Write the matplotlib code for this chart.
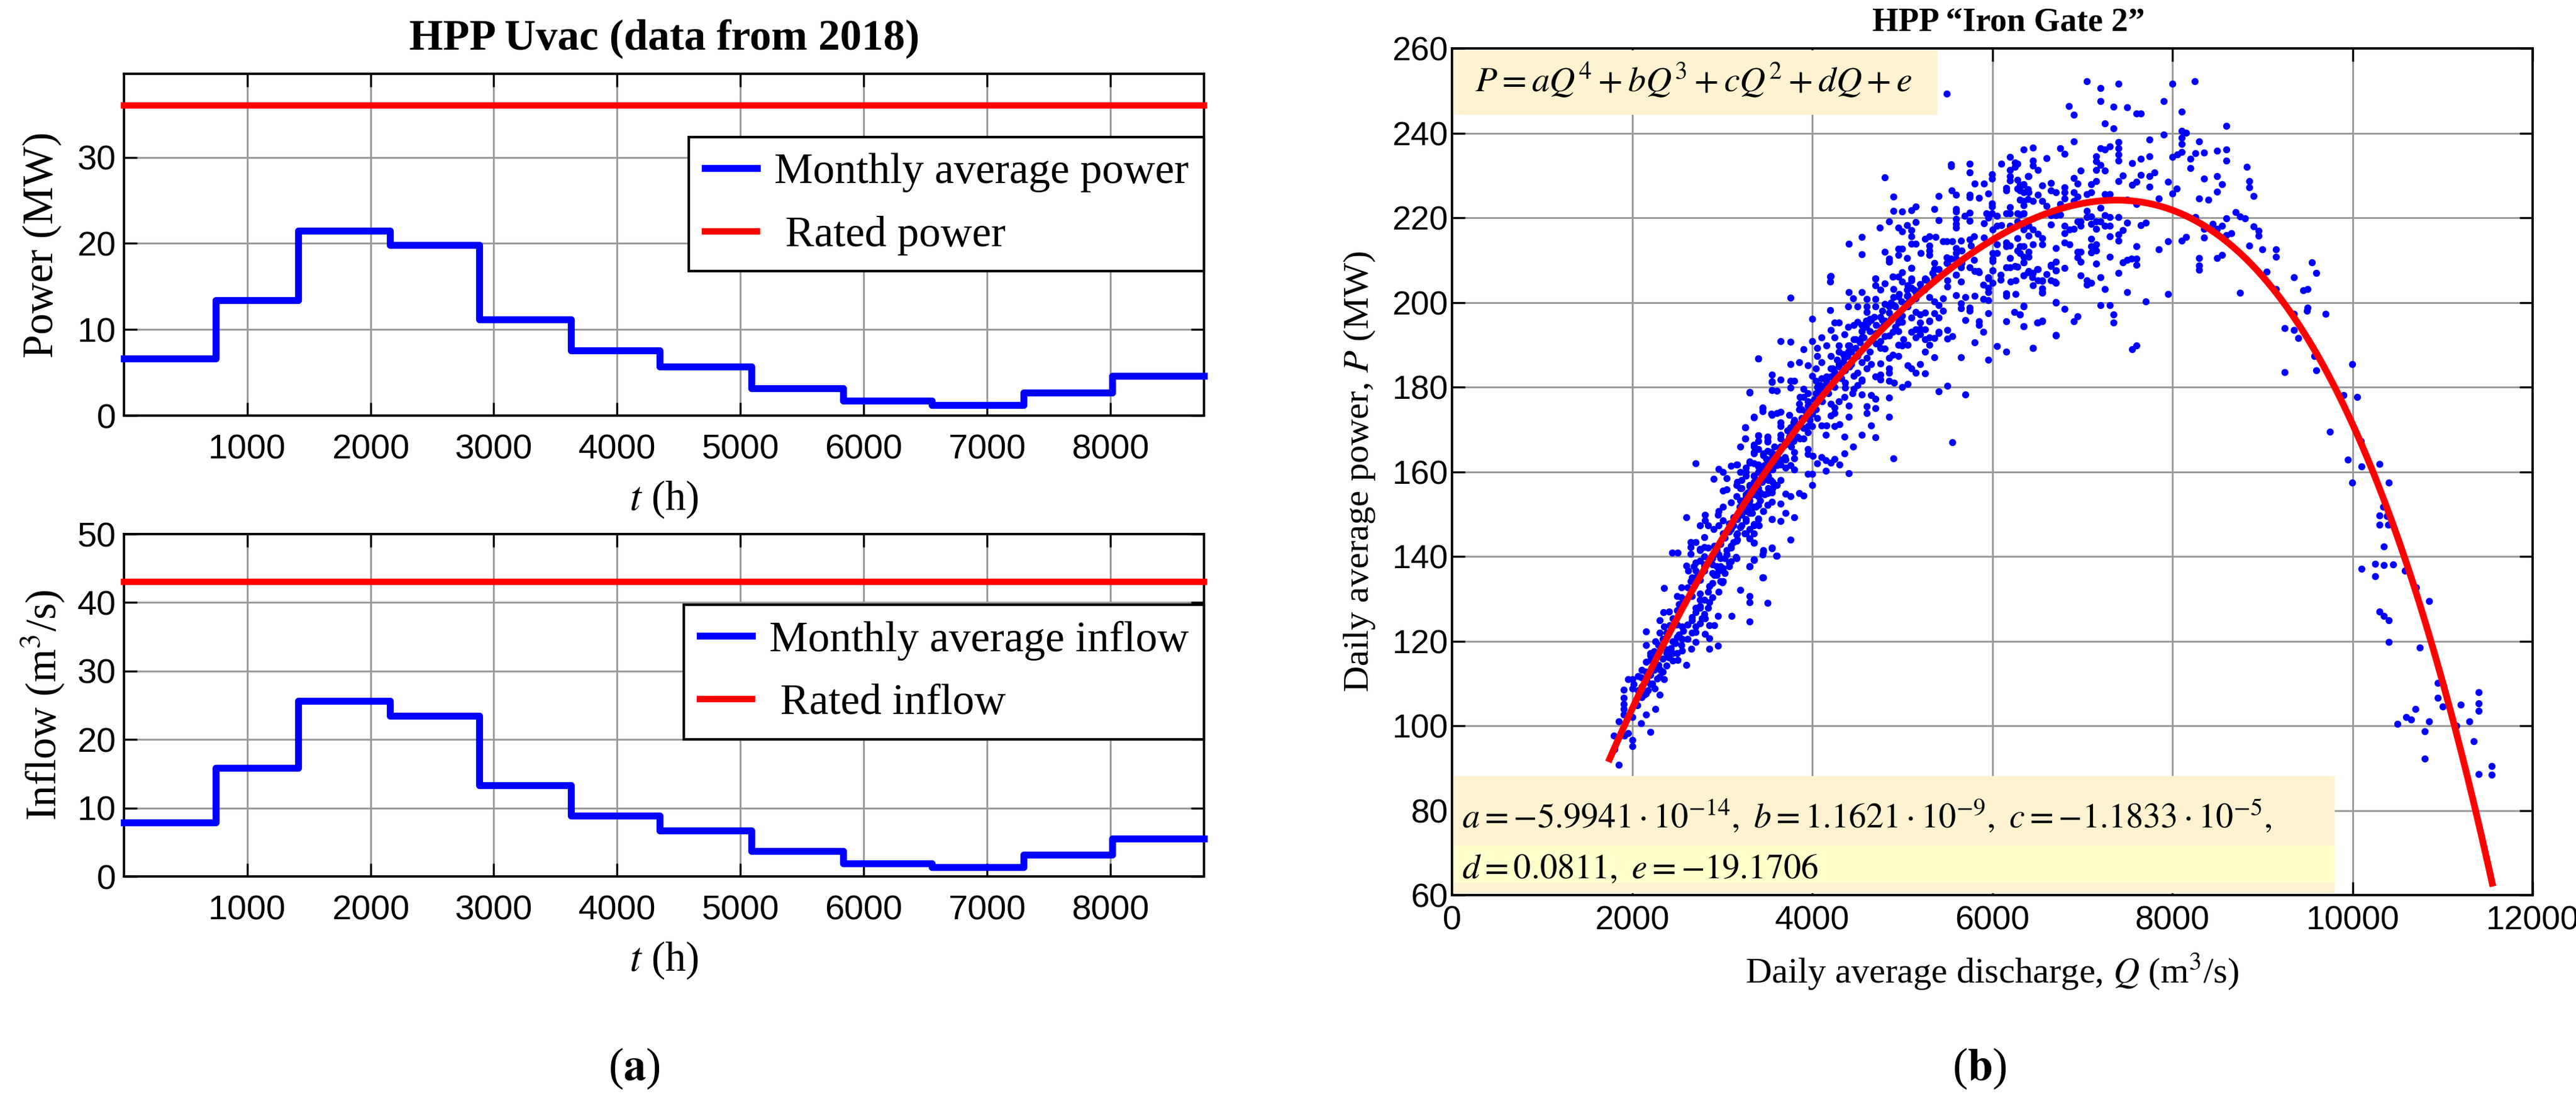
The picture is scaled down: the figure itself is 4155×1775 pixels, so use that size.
import numpy as np
import matplotlib
matplotlib.use("Agg")
import matplotlib.pyplot as plt
from matplotlib.patches import Rectangle

plt.rcParams['font.family'] = ['Liberation Serif', 'DejaVu Serif']
plt.rcParams['mathtext.fontset'] = 'stix'

# ---------------- (a) HPP Uvac, monthly data 2018 ----------------
month_edges = [0, 744, 1416, 2160, 2880, 3624, 4344, 5088, 5832, 6552, 7296, 8016, 8760]
monthly_power = [6.6, 13.4, 21.5, 19.8, 11.2, 7.6, 5.7, 3.2, 1.7, 1.2, 2.7, 4.6]
monthly_inflow = [7.9, 15.9, 25.6, 23.5, 13.3, 8.9, 6.7, 3.7, 1.9, 1.4, 3.2, 5.5]
rated_power = 36
rated_inflow = 43
t_ticks = [1000, 2000, 3000, 4000, 5000, 6000, 7000, 8000]

# ---------------- (b) HPP Iron Gate 2, daily data ----------------
fit_coeffs = [-5.9941e-14, 1.1621e-9, -1.1833e-5, 0.0811, -19.1706]
fit_q_range = [1750, 11550]

# rising branch, low discharge
pts_low = [
    (1853, 90.8), (1802, 94.4), (1798, 97.6), (1853, 101.1), (1904, 102.7), (1904, 103.9), (1904, 105.1),
    (1904, 106.6), (1904, 108.5), (1952, 111.0), (2003, 111.0), (2003, 108.8), (2003, 102.0), (1957, 98.3),
    (1915, 97.7), (2003, 96.6), (2003, 95.2), (2102, 100.6), (2157, 102.7), (2203, 98.5), (2256, 103.9),
    (2060, 104.9), (2107, 106.8), (2153, 107.6), (2199, 109.8), (2252, 108.8), (2302, 107.4), (2102, 111.5),
    (2153, 112.8), (2302, 111.6), (2353, 111.0), (2245, 113.7), (2314, 113.2), (2199, 115.6), (2199, 117.1),
    (2153, 119.0), (2157, 122.3), (2256, 120.0), (2302, 122.0), (2353, 123.4), (2302, 124.9), (2349, 126.8),
    (2406, 127.0), (2353, 132.5), (2406, 116.1), (2452, 117.1), (2503, 115.6), (2383, 118.1), (2452, 120.0),
    (2498, 121.0), (2556, 120.5), (2556, 117.8), (2602, 114.3), (2653, 118.2), (2706, 119.8), (2706, 122.2),
    (2805, 121.7), (2856, 120.7), (2856, 118.2), (2953, 118.9), (2498, 123.9), (2556, 123.4), (2614, 123.9),
    (2660, 124.9), (2752, 124.2), (2805, 125.4), (2856, 123.8), (2909, 123.8), (2752, 128.3), (2706, 127.8),
    (2498, 130.7), (2545, 132.7), (2568, 129.8), (2660, 130.7), (2752, 131.2), (2752, 129.8), (2856, 129.2),
    (2953, 126.0), (3102, 126.0), (3301, 124.7), (3301, 129.2), (3301, 130.7), (3201, 132.1), (3501, 129.0),
    (3450, 135.0), (2648, 134.2), (2706, 135.1), (2856, 133.0), (3001, 133.8), (2625, 136.6), (2683, 137.6),
    (2752, 139.0), (2890, 136.1), (3005, 136.6), (3075, 138.6), (2602, 137.8), (2441, 140.9), (2505, 140.9),
    (2648, 140.6), (2752, 141.5), (2844, 142.0), (3052, 140.5), (3155, 139.8), (3301, 137.6), (3351, 139.1),
    (3455, 141.2), (3554, 141.9), (3605, 140.1), (3098, 142.1),
    (2061, 108.3), (2107, 109.3), (2164, 110.7), (2199, 112.0), (2245, 113.2), (2291, 114.4), (2337, 115.9),
    (2383, 117.1), (2429, 118.3), (2475, 119.5), (2522, 121.5), (2568, 122.5), (2614, 123.9), (2660, 125.6),
    (2706, 126.8), (2752, 127.8), (2798, 129.8), (2844, 131.7), (2890, 133.7), (2936, 135.6), (2983, 137.6),
    (3029, 139.5), (2130, 107.3), (2176, 108.3), (2222, 110.0), (2280, 111.2), (2337, 112.7), (2383, 114.2),
    (2452, 115.4), (2498, 117.1), (2545, 119.0), (2614, 120.5), (2660, 122.0), (2706, 123.4), (2775, 125.4),
    (2798, 126.4), (2844, 127.8), (2890, 130.3), (2959, 131.7), (2983, 134.2), (3029, 136.1), (3075, 137.6),
    (2014, 109.8), (2061, 111.7), (2107, 113.2), (2153, 115.1), (2199, 116.6), (2245, 117.6), (2291, 119.0),
    (2337, 120.5), (2383, 122.0), (2418, 123.7), (2452, 125.4), (2498, 127.3), (2522, 128.8), (2545, 130.3),
    (2614, 132.7), (2660, 135.1), (2706, 136.6), (2798, 138.1), (2867, 139.5), (2936, 141.0),
]

# rising branch, 140-190 MW
pts_mid = [
    (3403, 186.8), (3548, 183.0), (3548, 181.2), (3548, 179.3), (3301, 178.7), (3451, 175.1), (3451, 174.3),
    (3548, 173.4), (3352, 172.9), (3253, 170.5), (3253, 167.8), (3202, 166.0), (3403, 168.6), (3502, 168.1),
    (3502, 167.1), (3352, 166.4), (3352, 164.7), (3403, 165.4), (3456, 164.4), (3536, 164.7), (2702, 162.0),
    (2956, 160.6), (3006, 160.0), (2903, 158.3), (3052, 158.5), (3098, 161.4), (3156, 161.7), (3202, 160.0),
    (3260, 160.0), (3301, 162.2), (3352, 162.0), (3403, 161.2), (3352, 159.0), (3444, 158.6), (3490, 160.0),
    (3536, 158.1), (3156, 156.8), (3202, 156.1), (3006, 155.6), (3052, 155.9), (3301, 156.8), (3352, 155.6),
    (3398, 154.2), (3260, 154.2), (3156, 154.2), (3202, 153.2), (3098, 152.7), (3006, 151.7), (2960, 150.7),
    (2949, 149.8), (2806, 149.9), (2806, 148.5), (2753, 147.3), (2845, 147.3), (2603, 149.3), (2903, 146.4),
    (2956, 147.3), (3006, 148.5), (3098, 146.4), (3156, 145.1), (3156, 143.7), (3098, 142.5), (3260, 150.7),
    (3306, 150.3), (3352, 151.7), (3403, 152.2), (3456, 150.7), (3398, 149.0), (3352, 147.6), (3410, 147.3),
    (3502, 152.2), (3548, 155.1), (3548, 152.9), (3548, 148.8), (3248, 145.4), (3306, 146.4), (3352, 145.4),
    (3306, 144.2), (3352, 143.2), (2649, 143.4), (2707, 143.4), (2649, 142.2), (2753, 141.7), (2799, 142.2),
    (2799, 144.6), (2799, 140.0), (2891, 139.5), (2960, 140.5), (3098, 138.8), (3156, 139.6), (2707, 138.5),
    (2799, 137.6), (2891, 138.1), (2960, 136.6), (3006, 137.3), (2914, 135.6), (3006, 134.2), (2661, 134.6),
    (2753, 134.4), (3306, 137.6), (3352, 139.3), (3456, 135.1), (3456, 141.5), (3548, 142.0),
    (2799, 136.6), (2891, 140.0), (2937, 141.5), (2983, 142.9), (3029, 144.4), (3075, 145.9), (3122, 147.3),
    (3168, 148.8), (3214, 150.3), (3260, 151.7), (3306, 153.2), (3352, 154.7), (3398, 156.1), (3444, 157.6),
    (3490, 159.0), (3536, 160.5), (3583, 162.0), (2845, 138.5), (2914, 142.5), (3006, 145.4), (3075, 147.8),
    (3122, 149.3), (3191, 151.7), (3237, 153.2), (3283, 155.1), (3329, 156.6), (3375, 158.1), (3421, 160.0),
    (3467, 161.5), (3513, 162.9), (3559, 164.4), (2983, 139.5), (3052, 141.5), (3122, 143.4), (3168, 145.4),
    (3214, 147.3), (3260, 148.8), (3329, 150.3), (3375, 151.7), (3421, 153.2), (3467, 154.7), (3513, 156.1),
    (3559, 157.6), (2937, 137.6), (2753, 135.6),
]

# central cloud, 3200-6700 m3/s
pts_core = [
    (3451, 135.1), (3305, 137.7), (3351, 139.3), (3451, 140.5), (3554, 142.1), (3600, 140.1), (3755, 144.0),
    (3351, 143.2), (3305, 144.2), (3259, 145.4), (3167, 143.9), (3202, 146.9), (3259, 148.3), (3351, 147.3),
    (3397, 148.8), (3397, 152.2), (3455, 150.7), (3501, 152.2), (3305, 150.5), (3213, 149.8), (3554, 148.8),
    (3651, 148.3), (3702, 150.2), (3801, 149.2), (3651, 152.4), (3397, 154.2), (3351, 155.6), (3305, 156.6),
    (3213, 156.1), (3501, 154.9), (3559, 156.1), (3651, 158.1), (3605, 156.8), (3704, 154.8), (3755, 154.2),
    (3854, 155.0), (3905, 154.4), (3167, 157.6), (3213, 158.1), (3259, 159.0), (3351, 159.0), (3397, 160.0),
    (3444, 161.0), (3513, 159.0), (3559, 160.5), (3167, 161.7), (3259, 161.0), (3305, 162.5), (3397, 161.7),
    (3455, 163.9), (3501, 164.9), (3559, 163.9), (3351, 164.4), (3351, 165.9), (3397, 167.3), (3397, 168.6),
    (3501, 168.3), (3501, 167.3), (3255, 167.8), (3255, 170.5), (3651, 161.7), (3702, 161.0), (3755, 161.5),
    (3801, 160.5), (3651, 162.9), (3702, 162.9), (3801, 164.7), (3801, 163.2), (3651, 165.9), (3697, 166.4),
    (3755, 167.3), (3651, 168.8), (3651, 170.8), (3651, 171.7), (3755, 170.5), (3801, 172.2), (3743, 173.4),
    (3547, 173.7), (3605, 173.9), (3651, 174.2), (3351, 173.0), (3451, 175.2), (3854, 174.7), (3854, 176.1),
    (3905, 177.6), (3951, 175.6), (3951, 170.8), (3951, 169.3), (3997, 170.8), (3858, 167.8), (3905, 167.8),
    (3789, 167.3), (3951, 165.4), (3951, 164.2), (4008, 163.7), (4001, 159.5), (3951, 159.5), (4001, 156.9),
    (4054, 162.0), (4100, 163.4), (4153, 162.7), (4204, 162.2), (4250, 163.0), (4301, 161.7), (4153, 160.3),
    (4405, 159.6), (4354, 164.4), (4451, 165.9), (4100, 171.0), (4158, 171.0), (4153, 168.7), (4250, 170.8),
    (4301, 171.2), (4354, 168.3), (4054, 172.7), (3997, 173.7), (4204, 173.2), (4250, 173.9), (4250, 175.2),
    (4204, 176.1), (4296, 176.6), (4354, 177.6), (4405, 175.6), (4405, 173.0), (4550, 168.8), (4654, 170.9),
    (4700, 168.1), (4550, 178.2), (4654, 178.1), (4700, 177.2), (4608, 175.4), (4608, 173.9), (4700, 175.1),
    (4850, 177.5), (4850, 173.0), (4900, 163.2), (5553, 166.9), (4458, 179.5), (4504, 180.5), (4550, 181.5),
    (4366, 179.8), (4446, 178.6), (4158, 181.5), (4100, 182.0), (4054, 180.0), (3951, 178.6), (3905, 179.5),
    (3858, 177.6), (3755, 179.8), (3801, 181.5), (3755, 181.5), (3651, 181.7), (3554, 181.3), (3605, 179.2),
    (3305, 178.8), (3397, 186.7), (3651, 190.8), (3755, 190.7), (3755, 201.1), (3755, 185.5), (3854, 185.9),
    (3951, 185.2), (3905, 188.9), (4001, 190.8), (4001, 196.1), (4054, 189.3), (4054, 187.4), (4100, 191.7),
    (4100, 185.9), (4158, 189.8), (4204, 187.4), (4043, 184.4), (3997, 182.7), (4043, 181.5), (4204, 184.4),
    (4250, 183.4), (4296, 185.4), (4204, 193.5), (4250, 191.7), (4296, 195.2), (4250, 195.2), (4200, 198.2),
    (4200, 206.1), (4200, 204.9), (4354, 192.5), (4400, 194.2), (4458, 194.7), (4504, 195.4), (4550, 193.2),
    (4550, 191.7), (4596, 195.7), (4654, 195.9), (4296, 189.8), (4296, 188.3), (4400, 189.8), (4400, 188.3),
    (4458, 191.3), (4354, 186.9), (4412, 184.9), (4458, 182.7), (4504, 183.4), (4550, 185.9), (4608, 186.9),
    (4654, 185.4), (4758, 185.6), (4608, 184.4), (4700, 182.5), (4758, 183.0), (4758, 181.7), (4550, 181.7),
    (4366, 181.0), (4850, 184.4), (4850, 183.4), (4850, 181.5), (4907, 181.0), (5000, 180.0), (5057, 180.8),
    (4642, 188.3), (4758, 189.3), (4804, 189.1), (4711, 190.3), (4758, 190.8), (4850, 186.9), (4896, 187.6),
    (4954, 187.4), (5057, 185.2), (5103, 184.4), (5149, 183.4), (5195, 185.4), (5253, 183.2), (5000, 189.8),
    (5057, 190.0), (5011, 191.3), (4954, 190.0), (5253, 188.3), (5299, 190.0), (5352, 187.1), (5149, 191.7),
    (5195, 192.5), (5253, 191.3), (5299, 191.7), (5352, 191.6), (5403, 192.8), (5099, 193.0), (5149, 193.7),
    (5195, 195.2), (5195, 193.8), (5253, 193.7), (5299, 195.5), (4896, 193.0), (4954, 193.2), (4850, 192.2),
    (4804, 192.0), (4919, 194.2), (4954, 195.2), (5000, 195.4), (4942, 196.6), (5000, 196.9), (5103, 196.4),
    (5149, 197.8), (5195, 197.1), (5253, 197.6), (5299, 195.7), (5352, 197.4), (5403, 196.4), (4758, 196.6),
    (4804, 195.7), (4642, 196.1), (4596, 194.2), (4550, 194.7), (5449, 198.1), (5502, 193.5), (5553, 192.0),
    (5502, 191.5), (5403, 193.0), (5652, 187.1), (5702, 178.3), (5502, 180.3), (5403, 179.0), (5802, 190.6),
    (5702, 195.8), (5852, 195.6), (5852, 194.7), (5898, 193.1), (5951, 186.4), (5951, 197.5), (6048, 189.7),
    (6152, 188.3), (6152, 195.6), (6348, 194.3), (6452, 189.3), (6498, 195.2), (6551, 195.6), (6701, 192.2),
    (6701, 200.0), (5749, 198.1), (5749, 198.8), (5652, 198.6), (5652, 199.8), (5702, 201.3), (5802, 201.5),
    (5599, 201.7), (5898, 200.8), (5898, 204.2), (5951, 202.5), (5951, 203.5), (5951, 205.7), (6002, 204.7),
    (6002, 207.6), (6152, 201.5), (6152, 202.2), (6256, 202.0), (6348, 199.1), (6302, 197.1), (6244, 197.8),
    (6094, 205.4), (6094, 206.6), (6205, 204.9), (6256, 205.2), (6348, 206.4), (6394, 207.1), (6440, 205.9),
    (6498, 207.8), (6551, 205.0), (6551, 202.5), (6648, 208.6), (6694, 204.9), (6701, 207.6),
    (4405, 202.5), (4451, 200.9), (4504, 199.0), (4400, 199.0), (4603, 200.8), (4603, 199.1), (4603, 197.8),
    (4550, 202.5), (4700, 199.0), (4700, 200.8), (4700, 204.0), (4758, 203.0), (4804, 199.6), (4804, 204.5),
    (4700, 205.7), (4850, 199.1), (4900, 199.3), (4900, 201.3), (4900, 203.2), (4954, 201.4), (4896, 206.1),
    (5000, 204.9), (5000, 207.1), (4954, 206.1), (5053, 203.0), (5053, 201.5), (5103, 203.5), (5103, 205.2),
    (5149, 202.5), (5099, 208.1), (4850, 209.6), (5057, 200.0), (5195, 203.0), (5253, 205.4), (5299, 201.3),
    (5352, 200.3), (5403, 199.3), (5449, 201.0), (5502, 203.7), (5502, 205.2), (5599, 206.6), (5652, 204.9),
    (5652, 208.3), (5352, 205.9), (5352, 207.8), (5403, 207.8), (5502, 209.3), (5749, 208.3), (5841, 207.4),
    (5951, 205.9), (5956, 200.5), (6002, 209.8),
    (3213, 151.2), (3259, 152.7), (3305, 154.2), (3374, 156.1), (3421, 158.1), (3467, 159.5), (3513, 161.0),
    (3559, 162.5), (3605, 163.9), (3651, 165.4), (3697, 166.9), (3743, 168.3), (3789, 169.8), (3835, 171.2),
    (3882, 172.7), (3928, 174.2), (3974, 175.6), (4020, 177.1), (4066, 178.6), (4112, 179.8), (4158, 181.0),
    (4204, 182.5), (4250, 183.5), (4296, 184.9), (4343, 185.9), (4389, 187.4), (4435, 188.3), (4481, 189.3),
    (4527, 190.5), (4573, 191.7), (4642, 193.2), (4711, 194.7), (4780, 195.9), (4850, 197.6), (4919, 199.1),
    (4988, 200.3), (5057, 201.7), (5126, 203.0), (5195, 204.4), (5265, 205.4), (5334, 206.9),
    (3305, 152.2), (3259, 154.7), (3421, 155.1), (3351, 157.6), (3513, 158.1), (3421, 161.0), (3605, 161.5),
    (3490, 163.0), (3697, 163.4), (3582, 165.9), (3766, 165.9), (3651, 167.8), (3835, 168.3), (3720, 169.8),
    (3905, 170.3), (3789, 171.7), (3974, 172.2), (3882, 174.7), (4043, 174.7), (3951, 176.6), (4112, 176.6),
    (4043, 178.6), (4181, 178.6), (4089, 180.5), (4250, 180.0), (4158, 182.5), (4320, 182.0), (4227, 184.4),
    (4366, 183.9), (4273, 186.4), (4435, 185.4), (4343, 187.8), (4504, 187.4), (4412, 189.8), (4573, 189.3),
    (4481, 191.3), (4642, 190.8), (4550, 193.2), (4711, 192.7), (4619, 195.2), (4780, 194.2), (4688, 196.6),
    (4873, 196.1), (4780, 198.1), (4965, 197.6), (4873, 200.0), (5057, 199.1), (4965, 202.0), (5149, 201.0),
    (5057, 204.0), (5242, 203.0),
]

# upper cloud around the maximum
pts_peak = [
    (5495, 249.3), (6348, 236.2), (6198, 234.3), (6251, 233.0), (6198, 231.3), (6251, 232.0), (6099, 232.8),
    (6198, 229.8), (6198, 228.8), (6394, 229.8), (5541, 232.6), (5541, 232.2), (5749, 232.7), (5749, 230.7),
    (5998, 230.2), (5998, 229.2), (5802, 228.1), (5904, 228.1), (6152, 227.1), (6152, 226.4), (6302, 227.8),
    (6348, 227.8), (6302, 226.4), (6394, 226.8), (4804, 229.5), (5548, 226.5), (5599, 225.5), (5749, 225.4),
    (5749, 224.9), (5852, 224.7), (5952, 225.7), (5403, 225.2), (4901, 225.0), (6302, 224.2), (6348, 223.9),
    (6394, 224.4), (5998, 223.4), (5998, 222.6), (6198, 222.5), (6152, 221.0), (6198, 221.0), (6302, 220.8),
    (6348, 221.0), (4901, 221.6), (5000, 221.5), (5103, 221.7), (5150, 222.6), (5352, 222.1), (5599, 222.1),
    (5599, 221.5), (5749, 221.2), (5691, 220.4), (5933, 221.0), (5998, 221.1), (6049, 220.5), (5956, 220.0),
    (4850, 219.1), (4751, 217.7), (5150, 219.0), (5403, 219.4), (5599, 219.7), (5749, 219.3), (5904, 218.7),
    (4954, 217.6), (5000, 216.8), (5053, 218.2), (5103, 217.1), (5103, 215.6), (5103, 213.9), (5150, 213.9),
    (5599, 218.6), (5599, 217.6), (6002, 217.3), (6049, 218.1), (6099, 218.2), (6198, 218.1), (4550, 215.4),
    (4405, 213.9), (4550, 211.3), (5253, 215.1), (5299, 215.6), (5369, 215.4), (5299, 213.4), (5299, 212.2),
    (5299, 211.2), (5449, 214.5), (5495, 214.5), (5553, 214.5), (5652, 214.6), (5749, 214.9), (5795, 215.6),
    (5760, 213.4), (5904, 215.3), (4804, 212.0), (4954, 212.7), (5000, 212.7), (4954, 211.2), (4850, 210.3),
    (4850, 209.8), (5053, 210.5), (5103, 208.2), (5202, 211.7), (5599, 212.9), (5599, 211.7), (5657, 212.2),
    (5495, 210.7), (5541, 210.3), (5495, 209.3), (5599, 210.3), (5657, 209.3), (5795, 210.0), (6002, 211.7),
    (6049, 211.7), (6002, 210.3), (6049, 213.7), (6152, 214.2), (6198, 213.4), (6152, 213.2), (5357, 209.3),
    (5357, 207.8), (5403, 207.8), (5802, 207.4), (5852, 207.1), (6002, 207.5), (6198, 210.5), (6152, 208.3),
    (6198, 208.3), (6251, 208.6), (6302, 213.2), (6302, 211.7), (6348, 209.5), (4205, 206.2), (4700, 205.7),
    (4896, 206.1), (5103, 205.7), (5253, 205.7), (5357, 206.1), (5599, 206.6),
    (7051, 252.3), (7201, 250.6), (7402, 251.7), (7996, 251.6), (8245, 252.2), (7201, 247.6), (6848, 246.4),
    (6901, 244.3), (7346, 246.3), (7496, 246.1), (7597, 244.6), (7650, 244.6), (7899, 247.6), (8100, 245.1),
    (7247, 242.3), (7346, 241.1), (7899, 239.6), (8100, 240.5), (8153, 240.1), (8100, 238.9), (8100, 237.4),
    (8600, 241.7), (7747, 238.5), (6901, 238.1), (7402, 237.9), (7402, 236.4), (7402, 235.0), (7402, 233.5),
    (7201, 236.4), (7247, 236.2), (7300, 236.8), (7150, 234.5), (7150, 233.3), (7201, 232.5), (7747, 234.5),
    (7650, 233.9), (7551, 232.9), (7996, 234.3), (8054, 235.0), (8100, 235.6), (8296, 238.0), (8349, 235.4),
    (8250, 235.2), (8199, 233.9), (8199, 231.8), (8496, 235.8), (8600, 236.2), (8600, 233.5), (8826, 232.0),
    (6452, 236.5), (6452, 233.5), (6452, 232.3), (6503, 231.3), (6602, 234.1), (6752, 236.4), (6802, 235.1),
    (6980, 231.2), (7150, 231.3), (7247, 231.2), (6401, 229.8), (6279, 232.8), (6901, 229.4), (6947, 228.0),
    (7097, 227.9), (7150, 228.6), (7097, 226.0), (7047, 225.6), (7402, 228.6), (7450, 230.0), (7551, 227.8),
    (7597, 228.5), (7650, 230.1), (7747, 229.9), (7800, 230.7), (7747, 227.3), (7950, 228.5), (7996, 225.8),
    (8049, 226.9), (8349, 229.2), (8496, 229.9), (8549, 227.9), (8496, 226.1), (8849, 228.6), (8849, 227.2),
    (8900, 225.1), (8296, 224.5), (8395, 224.2), (7846, 224.6),
    (6279, 228.9), (6348, 227.9), (6279, 226.9), (6348, 226.0), (6401, 226.0), (6452, 224.0), (6503, 225.5),
    (6551, 227.7), (6551, 224.0), (6602, 222.8), (6648, 228.2), (6648, 226.4), (6701, 226.0), (6752, 223.3),
    (6802, 227.2), (6802, 226.0), (6802, 224.5), (6901, 226.0), (6947, 225.0), (6901, 224.0),
    (6279, 221.1), (6348, 223.0), (6348, 221.1), (6279, 219.1), (6401, 218.1), (6452, 217.2), (6503, 216.2),
    (6551, 215.2), (6551, 213.7), (6452, 213.7), (6401, 215.7), (6348, 217.2), (6279, 215.2), (6279, 212.3),
    (6348, 213.3), (6401, 212.0), (6348, 210.8), (6401, 210.8), (6348, 209.4), (6279, 208.4),
    (6648, 220.6), (6648, 218.4), (6701, 220.6), (6752, 220.7), (6802, 218.1), (6802, 216.4), (6855, 217.2),
    (6901, 217.4), (6947, 219.1), (6980, 218.1), (6980, 219.1), (7051, 220.1), (7097, 218.6), (7051, 221.6),
    (7097, 220.3), (7150, 219.1), (7150, 217.4), (7201, 219.1), (7247, 220.6), (7300, 220.1), (7247, 218.1),
    (7300, 218.1), (7402, 220.2), (7496, 218.9), (7450, 217.1), (7402, 216.0), (7402, 214.6), (7300, 215.6),
    (7201, 222.3), (7247, 225.6), (7300, 225.6), (7496, 224.2), (7597, 223.3), (7650, 218.3), (7701, 218.8),
    (6701, 212.8), (6648, 208.9), (6701, 209.6), (6701, 207.6), (6802, 208.1), (6602, 206.7), (6503, 207.9),
    (6452, 206.9), (6401, 207.4), (6348, 206.4), (6452, 204.0), (6551, 203.3), (6551, 202.3), (6503, 205.2),
    (6551, 205.2), (6648, 205.2), (6701, 204.6), (6802, 214.2), (6855, 213.7), (6947, 212.0), (6947, 210.6),
    (6980, 212.0), (6980, 209.6), (7097, 215.0), (7150, 213.7), (7097, 213.3), (7097, 211.8), (7150, 212.2),
    (7150, 209.2), (7201, 206.0), (7247, 203.1), (7300, 210.8), (6980, 206.4), (7051, 205.2), (7097, 204.7),
    (7051, 204.2), (7402, 206.9), (7450, 209.5), (7496, 210.0), (7545, 210.4), (7597, 210.4), (7597, 208.9),
    (7597, 213.2), (7496, 202.4), (7701, 200.2), (7950, 202.0), (7846, 212.5), (7950, 214.5), (8100, 214.6),
    (8153, 215.4), (6701, 200.1), (6802, 198.5), (6348, 199.2), (6302, 197.2), (6348, 194.3), (6503, 195.2),
    (6551, 195.7), (6901, 195.6), (6947, 196.7), (6701, 192.3), (6452, 189.2), (7201, 199.4), (7300, 199.3),
    (7346, 197.1), (7346, 195.2), (7551, 189.0), (7597, 189.9),
]

# falling branch, high discharge
pts_high = [
    (8250, 220.1), (8349, 217.4), (8349, 215.3), (8446, 218.5), (8496, 217.4), (8549, 218.1), (8600, 219.8),
    (8653, 216.3), (8600, 215.9), (8699, 221.3), (8750, 220.3), (8803, 219.8), (8900, 218.0), (8953, 216.9),
    (8953, 215.8), (8296, 210.5), (8296, 208.7), (8296, 207.7), (8496, 210.5), (8549, 211.2), (8849, 213.4),
    (8999, 212.5), (9149, 212.5), (9149, 210.8), (9045, 207.2), (9149, 203.2), (8750, 202.3), (9345, 206.0),
    (9548, 209.5), (9598, 206.9), (9448, 202.8), (9499, 203.2), (9499, 198.7), (9702, 197.3), (9345, 197.3),
    (9248, 193.9), (9345, 193.5), (9398, 191.6), (9248, 183.5), (9598, 184.0), (9575, 187.4),
    (9495, 198.1), (9998, 185.5), (9899, 178.1), (10049, 177.6), (9749, 169.4), (10095, 167.3), (9950, 162.8),
    (10099, 161.3), (10298, 161.9), (9998, 157.4), (10399, 157.4), (10337, 151.8), (10298, 149.7),
    (10383, 149.5), (10298, 147.5), (10394, 147.5), (10348, 142.4), (10099, 137.1), (10249, 138.2),
    (10348, 138.0), (10447, 138.1), (10249, 135.3), (10583, 136.7), (10706, 132.7), (10849, 129.4),
    (10298, 127.0), (10348, 126.0), (10399, 124.9), (10399, 119.8), (10747, 118.5), (10943, 110.1),
    (10948, 106.6), (10998, 104.6), (11197, 105.0), (11397, 107.9), (11397, 105.3), (11397, 103.5),
    (10699, 103.9), (10595, 102.0), (10648, 101.5), (10498, 100.4), (10849, 101.1), (10798, 98.7),
    (11155, 100.0), (11298, 101.0), (11346, 96.3), (10798, 92.2), (11547, 90.5), (11547, 88.4), (11397, 88.6),
]

daily = np.array(pts_low + pts_mid + pts_core + pts_peak + pts_high)
daily_q = daily[:, 0]
daily_p = daily[:, 1]

TICK_FONT = 'Liberation Sans'
GRID_KW = dict(color='#9a9a9a', linewidth=0.7)


def style_axes(ax, tick_size, xpad, ypad):
    ax.grid(True, **GRID_KW)
    ax.set_axisbelow('line')
    ax.tick_params(direction='in', length=5, width=0.8, top=True, right=True,
                   labelsize=tick_size, labelfontfamily=TICK_FONT, pad=xpad, axis='x')
    ax.tick_params(direction='in', length=5, width=0.8, top=True, right=True,
                   labelsize=tick_size, labelfontfamily=TICK_FONT, pad=ypad, axis='y')
    for s in ax.spines.values():
        s.set_linewidth(0.9)


def monthly_panel(ax, values, rated, label_avg, label_rated, ylabel, ylim, yticks, leg_top, ylabpad):
    ax.step(month_edges, values + [values[-1]], where='post', color='#0000ff', lw=2.7,
            label=label_avg, clip_on=False, zorder=3)
    ax.axhline(rated, color='#ff0000', lw=2.5, label=label_rated, clip_on=False, zorder=3)
    ax.set_xlim(0, 8760)
    ax.set_ylim(*ylim)
    ax.set_xticks(t_ticks)
    ax.set_yticks(yticks)
    style_axes(ax, 13.5, 7, 3)
    ax.set_xlabel(r'$t$ (h)', fontsize=16, labelpad=5)
    ax.set_ylabel(ylabel, fontsize=16.5, labelpad=ylabpad)
    leg = ax.legend(loc='upper right', bbox_to_anchor=(1.0, leg_top), borderaxespad=0,
                    fontsize=16.8, fancybox=False, framealpha=1, edgecolor='black',
                    handlelength=1.2, handletextpad=0.4, borderpad=0.36, labelspacing=0.54)
    leg.get_frame().set_linewidth(1.0)


fig = plt.figure(figsize=(13.85, 5.9167), dpi=300)

ax1 = fig.add_axes([0.0481, 0.6225, 0.4193, 0.3104])
monthly_panel(ax1, monthly_power, rated_power, 'Monthly average power', ' Rated power',
              'Power (MW)', (0, 39.7), [0, 10, 20, 30], 0.815, 6)

ax2 = fig.add_axes([0.0481, 0.2039, 0.4193, 0.311])
monthly_panel(ax2, monthly_inflow, rated_inflow, 'Monthly average inflow', ' Rated inflow',
              r'Inflow (m$^3$/s)', (0, 50), [0, 10, 20, 30, 40, 50], 0.793, 4)

fig.text(0.2578, 0.965, 'HPP Uvac (data from 2018)', ha='center', va='center',
         fontsize=16.8, fontweight='bold')
fig.text(0.2462, 0.0293, r'($\mathbf{a}$)', ha='center', va='center', fontsize=17.5)

# (b)
ax3 = fig.add_axes([0.5637, 0.187, 0.4195, 0.769])
ax3.scatter(daily_q, daily_p, s=7.5, color='#0000ff', linewidths=0, zorder=3)
q_curve = np.linspace(fit_q_range[0], fit_q_range[1], 400)
ax3.plot(q_curve, np.polyval(fit_coeffs, q_curve), color='#ff0000', lw=2.6, zorder=4)
ax3.set_xlim(0, 12000)
ax3.set_ylim(60, 260)
ax3.set_xticks(range(0, 12001, 2000))
ax3.set_yticks(range(60, 261, 20))
style_axes(ax3, 13, 4, 1.5)
ax3.set_xlabel(r'Daily average discharge, $Q$ (m$^3$/s)', fontsize=14, labelpad=6)
ax3.set_ylabel(r'Daily average power, $P$ (MW)', fontsize=14, labelpad=6)

ax3.add_patch(Rectangle((0, 0.922), 0.449, 0.076, transform=ax3.transAxes,
                        facecolor='#fef2d0', edgecolor='none', zorder=2))
ax3.add_patch(Rectangle((0, 0.002), 0.817, 0.1385, transform=ax3.transAxes,
                        facecolor='#fef2d0', edgecolor='none', zorder=2))
ax3.add_patch(Rectangle((0, 0.015), 0.817, 0.0435, transform=ax3.transAxes,
                        facecolor='#ffffcc', edgecolor='none', zorder=2))
ax3.text(0.021, 0.963, r'$P=aQ^4+bQ^3+cQ^2+dQ+e$', transform=ax3.transAxes,
         va='center', ha='left', fontsize=13.8, zorder=5)
ax3.text(0.009, 0.093,
         r'$a=-5.9941\cdot10^{-14},\ b=1.1621\cdot10^{-9},\ c=-1.1833\cdot10^{-5},$',
         transform=ax3.transAxes, va='center', ha='left', fontsize=13.5, zorder=5)
ax3.text(0.009, 0.030, r'$d=0.0811,\ e=-19.1706$', transform=ax3.transAxes,
         va='center', ha='left', fontsize=13.5, zorder=5)

fig.text(0.7798, 0.979, 'HPP \u201cIron Gate 2\u201d', ha='center', va='center',
         fontsize=13, fontweight='bold')
fig.text(0.7685, 0.0293, r'($\mathbf{b}$)', ha='center', va='center', fontsize=17.5)

fig.savefig('out.png', dpi=300)
